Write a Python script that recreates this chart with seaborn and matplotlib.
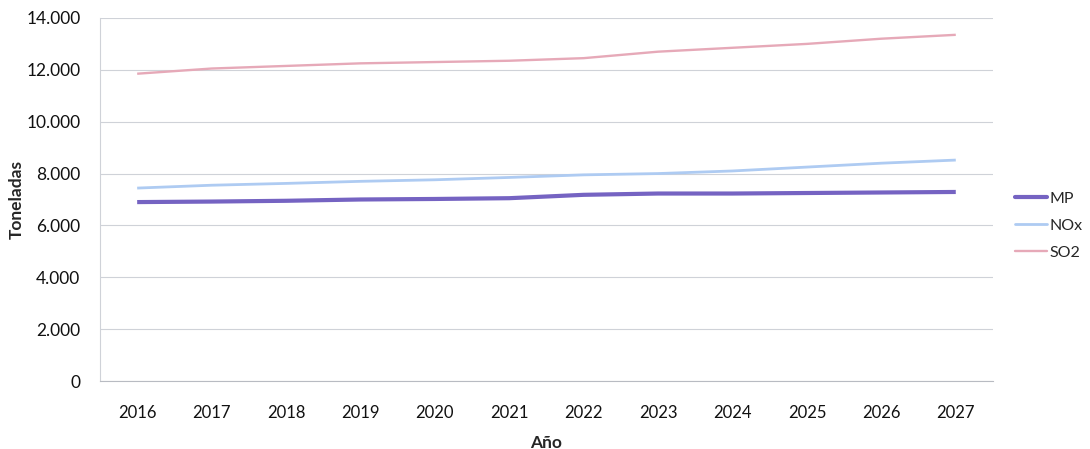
import numpy as np
import pandas as pd
import matplotlib
matplotlib.use("Agg")
import matplotlib.pyplot as plt
import seaborn as sns
from matplotlib.ticker import FuncFormatter, FixedLocator

years = [2016, 2017, 2018, 2019, 2020, 2021, 2022, 2023, 2024, 2025, 2026, 2027]
mp = [6900, 6920, 6950, 7000, 7020, 7050, 7180, 7230, 7230, 7250, 7270, 7290]
nox = [7440, 7550, 7620, 7700, 7760, 7850, 7950, 8000, 8100, 8250, 8400, 8520]
so2 = [11850, 12050, 12150, 12250, 12300, 12350, 12450, 12700, 12850, 13000, 13200, 13350]
series_names = ["MP", "NOx", "SO2"]

df = pd.DataFrame({
    "Año": years * 3,
    "Toneladas": mp + nox + so2,
    "Serie": sum([[n] * len(years) for n in series_names], []),
})

sns.set_theme(style="white")
plt.rcParams["font.family"] = ["Lato", "DejaVu Sans"]

palette = {"MP": "#7563c2", "NOx": "#aecbf2", "SO2": "#e6a9b8"}
widths = {"MP": 3.0, "NOx": 2.0, "SO2": 1.7}

fig = plt.figure(figsize=(10.9, 4.49), dpi=100)
ax = fig.add_axes([0.0917, 0.1514, 0.8193, 0.8086])

sns.lineplot(data=df, x="Año", y="Toneladas", hue="Serie", palette=palette,
             ax=ax, legend=False)
for line, name in zip(ax.get_lines(), series_names):
    line.set_linewidth(widths[name])
    line.set_solid_capstyle("butt")

ax.set_xlim(2015.5, 2027.5)
ax.set_ylim(0, 14000)
ax.set_xticks(years)
ax.set_xticklabels([str(y) for y in years])
ax.xaxis.set_minor_locator(FixedLocator(np.arange(2015.5, 2028, 1)))
ax.tick_params(axis="x", which="major", length=0, pad=17, labelsize=12, labelcolor="#111111")
ax.tick_params(axis="x", which="minor", length=4, color="#b0b0b0", direction="in", width=0.8)
ax.set_yticks(np.arange(0, 14001, 2000))
ax.yaxis.set_major_formatter(FuncFormatter(lambda v, p: f"{int(v):,}".replace(",", ".")))
ax.tick_params(axis="y", length=0, pad=14, labelsize=12.5, labelcolor="#111111")

ax.grid(axis="y", color="#cfd2d8", linewidth=0.8)
ax.grid(axis="x", visible=False)
for side in ["top", "right"]:
    ax.spines[side].set_visible(False)
ax.spines["left"].set_color("#cfd2d8")
ax.spines["bottom"].set_color("#b8bbc2")
ax.spines["left"].set_linewidth(0.8)
ax.spines["bottom"].set_linewidth(0.8)

ax.set_xlabel("Año", fontsize=12.5, fontweight="bold", labelpad=10)
ax.set_ylabel("Toneladas", fontsize=12.5, fontweight="bold")
ax.yaxis.set_label_coords(-0.084, 0.5)

handles = [plt.Line2D([0], [0], color=palette[n], linewidth=widths[n]) for n in series_names]
fig.legend(handles, series_names, loc="center left", bbox_to_anchor=(0.931, 0.497),
           frameon=False, fontsize=11.5, handlelength=2.0, handletextpad=0.15,
           labelspacing=0.8, borderpad=0, borderaxespad=0)

fig.savefig("out.png", dpi=100, facecolor="white")
